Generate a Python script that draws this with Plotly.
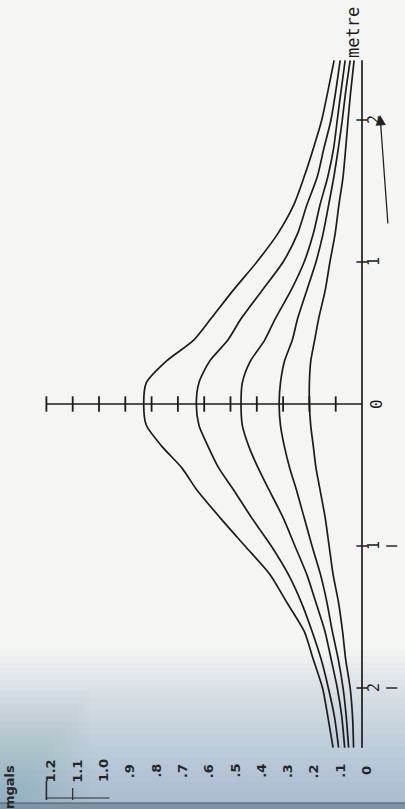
import plotly.graph_objects as go

# ---- data -------------------------------------------------------------
# distance along the profile (metre)
distance = [-2.42, -2.2, -2.0, -1.8, -1.6, -1.4, -1.2, -1.0, -0.8, -0.6, -0.45, -0.3, -0.15,
            0.0,
            0.15, 0.3, 0.45, 0.6, 0.8, 1.0, 1.2, 1.4, 1.6, 1.8, 2.0, 2.2, 2.42]

# gravity anomaly profiles (mgal), one per model
profile_a = [0.11, 0.13, 0.15, 0.185, 0.22, 0.285, 0.35, 0.445, 0.54, 0.63, 0.685, 0.76, 0.82,
             0.83,
             0.82, 0.745, 0.64, 0.575, 0.49, 0.40, 0.32, 0.26, 0.22, 0.185, 0.153, 0.13, 0.106]
profile_b = [0.089, 0.105, 0.128, 0.155, 0.19, 0.23, 0.28, 0.345, 0.42, 0.49, 0.545, 0.585, 0.62,
             0.63,
             0.62, 0.58, 0.51, 0.46, 0.38, 0.30, 0.245, 0.21, 0.17, 0.145, 0.118, 0.10, 0.083]
profile_c = [0.066, 0.077, 0.094, 0.117, 0.141, 0.175, 0.21, 0.255, 0.30, 0.355, 0.395, 0.43, 0.455,
             0.46,
             0.455, 0.425, 0.37, 0.33, 0.27, 0.22, 0.185, 0.16, 0.13, 0.108, 0.094, 0.08, 0.064]
profile_d = [0.051, 0.06, 0.072, 0.09, 0.113, 0.133, 0.158, 0.19, 0.22, 0.25, 0.275, 0.295, 0.31,
             0.315,
             0.31, 0.295, 0.265, 0.245, 0.21, 0.175, 0.148, 0.127, 0.107, 0.09, 0.075, 0.062, 0.045]
profile_e = [0.032, 0.036, 0.045, 0.062, 0.074, 0.089, 0.11, 0.125, 0.14, 0.16, 0.175, 0.185, 0.195,
             0.20,
             0.20, 0.195, 0.18, 0.165, 0.14, 0.122, 0.102, 0.088, 0.072, 0.062, 0.053, 0.043, 0.03]
profiles = [profile_a, profile_b, profile_c, profile_d, profile_e]

# gravity scale (mgal) ticks and their printed labels
gravity_ticks = [0.1, 0.2, 0.3, 0.4, 0.5, 0.6, 0.7, 0.8, 0.9, 1.0, 1.1, 1.2]
scale_values = [0.0, 0.1, 0.2, 0.3, 0.4, 0.5, 0.6, 0.7, 0.8, 0.9, 1.0, 1.1, 1.2]
scale_labels = ["0", ".1", ".2", ".3", ".4", ".5", ".6", ".7", ".8", ".9", "1.0", "1.1", "1.2"]

# distance axis ticks (metre)
metre_ticks = [-2, -1, 1, 2]
metre_labels = ["2", "1", "1", "2"]

# ---- page geometry -----------------------------------------------------
W, H = 405, 809
X0_PX, X_PER_MGAL = 362, 263.0     # gravity axis: 0 mgal at this pixel column
Y0_PX, Y_PER_M = 404, 142.0        # distance axis: 0 m at this pixel row

INK = "#1c1c1c"
MONO = "DejaVu Sans Mono"


def paper_y(py):
    return 1 - py / H


fig = go.Figure()

# gravity profiles, drawn rotated: gravity runs leftwards, distance upwards
for prof in profiles:
    fig.add_trace(go.Scatter(
        x=prof, y=distance, mode="lines",
        line=dict(color=INK, width=1.7, shape="spline", smoothing=0.7),
        hoverinfo="skip", showlegend=False))

# zero-anomaly line (distance axis)
fig.add_trace(go.Scatter(
    x=[0, 0], y=[distance[0], distance[-1]], mode="lines",
    line=dict(color=INK, width=1.7), hoverinfo="skip", showlegend=False))
fig.add_trace(go.Scatter(
    x=[0] * len(metre_ticks), y=metre_ticks, mode="markers",
    marker=dict(symbol="line-ew", size=8, line=dict(color=INK, width=1.5)),
    hoverinfo="skip", showlegend=False))

# gravity axis through the origin with 0.1 mgal ticks
fig.add_trace(go.Scatter(
    x=[0, gravity_ticks[-1]], y=[0, 0], mode="lines",
    line=dict(color=INK, width=1.7), hoverinfo="skip", showlegend=False))
fig.add_trace(go.Scatter(
    x=gravity_ticks, y=[0] * len(gravity_ticks), mode="markers",
    marker=dict(symbol="line-ns", size=11, line=dict(color=INK, width=1.8)),
    hoverinfo="skip", showlegend=False))

annotations = []
CENTER = dict(xanchor="center", yanchor="middle", showarrow=False, textangle=-90)

# distance labels beside the zero line
for d, lab in zip(metre_ticks, metre_labels):
    annotations.append(dict(
        x=0, y=d, xref="x", yref="y", text=lab, xshift=12,
        font=dict(family=MONO, size=15, color=INK), **CENTER))
annotations.append(dict(
    x=0, y=0, xref="x", yref="y", text="0", xshift=14,
    font=dict(family=MONO, size=16, color=INK), **CENTER))
annotations.append(dict(
    x=0, y=paper_y(33), xref="x", yref="paper", text="metre", xshift=-9,
    font=dict(family=MONO, size=17, color=INK), **CENTER))

# printed mgal scale along the foot of the page
for v, lab in zip(scale_values, scale_labels):
    annotations.append(dict(
        x=v, y=paper_y(771), xref="x", yref="paper", text="<b>%s</b>" % lab,
        xshift=4, font=dict(family="DejaVu Sans", size=13, color="#262626"), **CENTER))
annotations.append(dict(
    x=9 / W, y=paper_y(787), xref="paper", yref="paper", text="<b>mgals</b>",
    font=dict(family="DejaVu Sans", size=13, color="#262626"), **CENTER))

# hand-drawn direction arrow
annotations.append(dict(
    x=380 / W, y=paper_y(115), xref="paper", yref="paper", text="",
    showarrow=True, ax=8, ay=110, arrowhead=2, arrowsize=1.6, arrowwidth=1.3,
    arrowcolor="#222"))

shapes = []

# page shading towards the binding at the bottom
for i in range(26):
    top = 650 + i * 6
    shapes.append(dict(type="rect", xref="paper", yref="paper", layer="below",
                       x0=0, x1=1, y0=0, y1=paper_y(top),
                       line=dict(width=0), fillcolor="rgba(140,168,186,0.033)"))
for i in range(14):
    shapes.append(dict(type="rect", xref="paper", yref="paper", layer="below",
                       x0=0, x1=(90 - i * 6) / W, y0=0, y1=paper_y(690 + i * 8),
                       line=dict(width=0), fillcolor="rgba(120,140,155,0.02)"))
shapes.append(dict(type="rect", xref="paper", yref="paper", layer="above",
                   x0=0, x1=1, y0=0, y1=paper_y(803),
                   line=dict(width=0), fillcolor="#7f93a3"))
shapes.append(dict(type="line", xref="paper", yref="paper", layer="above",
                   x0=0, x1=1, y0=paper_y(803), y1=paper_y(803),
                   line=dict(color="#4a5a68", width=1.2)))

# minus signs written beside the negative distance labels
for d in (-1, -2):
    shapes.append(dict(type="line", xref="x", yref="y",
                       x0=-0.092, x1=-0.134, y0=d, y1=d,
                       line=dict(color=INK, width=1.4)))

# stub of the mgal scale bar beside its upper labels
shapes.append(dict(type="line", xref="x", yref="paper",
                   x0=1.2, x1=1.2, y0=paper_y(781), y1=paper_y(800),
                   line=dict(color="#2a2a2a", width=1.6)))
shapes.append(dict(type="line", xref="x", yref="paper",
                   x0=1.1, x1=1.1, y0=paper_y(788), y1=paper_y(800),
                   line=dict(color="#2a2a2a", width=1.2)))
shapes.append(dict(type="line", xref="x", yref="paper",
                   x0=1.2, x1=0.96, y0=paper_y(798), y1=paper_y(798),
                   line=dict(color="#2a2a2a", width=1.2)))

fig.update_layout(
    width=W, height=H,
    margin=dict(l=0, r=0, t=0, b=0, pad=0),
    paper_bgcolor="#f5f5f4",
    plot_bgcolor="rgba(0,0,0,0)",
    xaxis=dict(range=[X0_PX / X_PER_MGAL, (X0_PX - W) / X_PER_MGAL],
               visible=False, showgrid=False, zeroline=False, fixedrange=True),
    yaxis=dict(range=[(Y0_PX - H) / Y_PER_M, Y0_PX / Y_PER_M],
               visible=False, showgrid=False, zeroline=False, fixedrange=True),
    annotations=annotations,
    shapes=shapes,
    showlegend=False,
)

fig.write_html("out.html")
